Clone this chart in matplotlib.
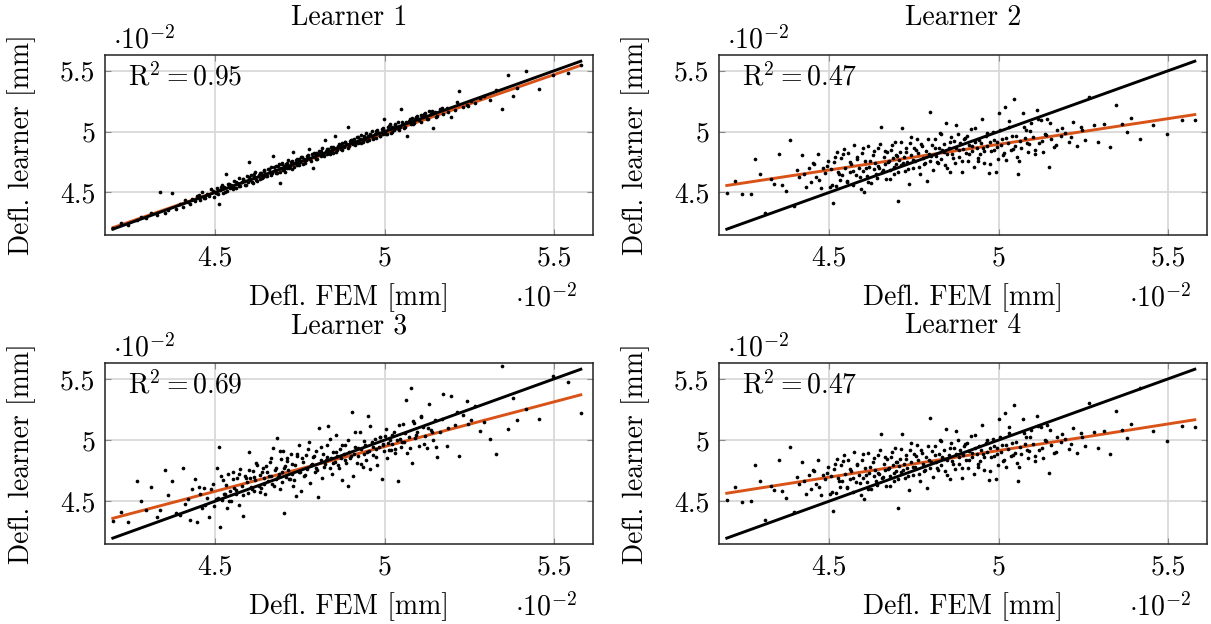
import matplotlib.pyplot as plt
import numpy as np

plt.rcParams['font.family'] = 'cmr10'
plt.rcParams['mathtext.fontset'] = 'cm'
plt.rcParams['axes.formatter.use_mathtext'] = True

# Deflections in units of 1e-2 mm (FEM reference, shared by all learners)
defl_fem = [
    4.198, 4.221, 4.243, 4.268, 4.281, 4.296, 4.312, 4.327, 4.338, 4.351,
    4.362, 4.374, 4.385, 4.397, 4.404, 4.412, 4.419, 4.426, 4.433, 4.441,
    4.447, 4.455, 4.461, 4.468, 4.476, 4.483, 4.489, 4.496, 4.502, 4.506,
    4.511, 4.514, 4.519, 4.523, 4.527, 4.531, 4.536, 4.539, 4.544, 4.548,
    4.552, 4.557, 4.561, 4.565, 4.569, 4.574, 4.578, 4.583, 4.588, 4.593,
    4.597, 4.599, 4.603, 4.607, 4.611, 4.616, 4.619, 4.624, 4.628, 4.633,
    4.636, 4.641, 4.645, 4.648, 4.653, 4.657, 4.661, 4.664, 4.668, 4.672,
    4.676, 4.681, 4.684, 4.688, 4.692, 4.695, 4.698, 4.699, 4.703, 4.706,
    4.709, 4.713, 4.716, 4.721, 4.724, 4.728, 4.731, 4.735, 4.739, 4.742,
    4.746, 4.751, 4.754, 4.758, 4.762, 4.767, 4.771, 4.776, 4.781, 4.785,
    4.789, 4.794, 4.797, 4.799, 4.803, 4.807, 4.812, 4.815, 4.819, 4.823,
    4.826, 4.831, 4.834, 4.838, 4.842, 4.846, 4.849, 4.853, 4.857, 4.861,
    4.864, 4.868, 4.872, 4.875, 4.879, 4.883, 4.887, 4.891, 4.895, 4.898,
    4.903, 4.907, 4.911, 4.914, 4.918, 4.922, 4.927, 4.931, 4.935, 4.938,
    4.942, 4.946, 4.951, 4.955, 4.958, 4.962, 4.966, 4.971, 4.975, 4.979,
    4.983, 4.987, 4.991, 4.995, 4.998, 5.002, 5.006, 5.011, 5.015, 5.019,
    5.023, 5.028, 5.032, 5.036, 5.041, 5.045, 5.049, 5.054, 5.058, 5.063,
    5.067, 5.072, 5.077, 5.082, 5.086, 5.091, 5.095, 5.103, 5.108, 5.114,
    5.119, 5.124, 5.131, 5.137, 5.142, 5.148, 5.156, 5.163, 5.172, 5.184,
    5.195, 5.208, 5.219, 5.231, 5.242, 5.256, 5.268, 5.281, 5.294, 5.312,
    5.328, 5.347, 5.363, 5.378, 5.391, 5.418, 5.456, 5.497, 5.541, 5.579,
    4.452, 4.471, 4.493, 4.508, 4.517, 4.529, 4.541, 4.553, 4.563, 4.571,
    4.582, 4.591, 4.601, 4.609, 4.614, 4.622, 4.631, 4.638, 4.643, 4.651,
    4.659, 4.666, 4.674, 4.679, 4.686, 4.691, 4.697, 4.704, 4.711, 4.718,
    4.726, 4.733, 4.741, 4.748, 4.756, 4.764, 4.773, 4.782, 4.791, 4.801,
    4.811, 4.821, 4.829, 4.839, 4.847, 4.856, 4.866, 4.874, 4.884, 4.893,
    4.901, 4.912, 4.921, 4.929, 4.939, 4.948, 4.957, 4.967, 4.976, 4.985,
    4.994, 5.004, 5.013, 5.021, 5.031, 5.043, 5.052, 5.061, 5.074, 5.084,
    5.093, 5.106, 5.117, 5.128, 5.139, 5.152, 5.168, 5.186, 5.214, 5.246,
]

defl_learner1 = [
    4.205, 4.248, 4.236, 4.271, 4.302, 4.288, 4.335, 4.316, 4.507, 4.334,
    4.356, 4.497, 4.361, 4.405, 4.383, 4.438, 4.425, 4.402, 4.447, 4.431,
    4.468, 4.437, 4.502, 4.455, 4.489, 4.472, 4.531, 4.463, 4.494, 4.538,
    4.407, 4.519, 4.562, 4.498, 4.541, 4.655, 4.512, 4.573, 4.536, 4.561,
    4.548, 4.592, 4.537, 4.578, 4.621, 4.556, 4.589, 4.608, 4.562, 4.634,
    4.583, 4.748, 4.602, 4.641, 4.574, 4.623, 4.667, 4.598, 4.641, 4.612,
    4.662, 4.627, 4.683, 4.651, 4.637, 4.692, 4.668, 4.709, 4.656, 4.798,
    4.681, 4.714, 4.662, 4.731, 4.575, 4.698, 4.743, 4.682, 4.719, 4.671,
    4.736, 4.702, 4.768, 4.719, 4.748, 4.695, 4.832, 4.741, 4.763, 4.727,
    4.771, 4.748, 4.794, 4.733, 4.779, 4.768, 4.802, 4.857, 4.776, 4.812,
    4.698, 4.795, 4.828, 4.779, 4.816, 4.842, 4.801, 4.863, 4.818, 4.934,
    4.842, 4.812, 4.859, 4.836, 4.875, 4.851, 4.827, 4.962, 4.868, 4.845,
    4.881, 4.892, 4.859, 4.906, 4.873, 4.918, 4.896, 5.042, 4.884, 4.921,
    4.928, 4.895, 4.941, 4.917, 4.952, 4.903, 4.936, 4.971, 4.918, 4.954,
    4.938, 4.986, 4.962, 4.928, 4.975, 5.003, 4.951, 4.983, 4.947, 5.012,
    4.991, 4.962, 5.018, 4.984, 5.102, 5.006, 4.978, 5.035, 5.062, 4.989,
    5.041, 5.015, 5.058, 5.026, 5.082, 5.039, 5.186, 5.061, 5.032, 5.078,
    4.968, 5.089, 5.063, 5.112, 5.074, 5.101, 5.129, 5.092, 5.136, 5.118,
    5.156, 5.102, 5.173, 5.141, 5.032, 5.162, 5.127, 5.189, 5.148, 5.196,
    5.118, 5.176, 5.332, 5.204, 5.217, 5.248, 5.236, 5.273, 5.296, 5.261,
    5.341, 5.187, 5.468, 5.294, 5.358, 5.502, 5.347, 5.463, 5.478, 5.548,
    4.481, 4.452, 4.511, 4.489, 4.548, 4.507, 4.568, 4.531, 4.589, 4.552,
    4.611, 4.565, 4.628, 4.583, 4.652, 4.604, 4.659, 4.621, 4.678, 4.633,
    4.691, 4.642, 4.707, 4.661, 4.719, 4.672, 4.732, 4.689, 4.745, 4.701,
    4.758, 4.709, 4.776, 4.727, 4.791, 4.741, 4.806, 4.762, 4.823, 4.779,
    4.842, 4.803, 4.861, 4.812, 4.877, 4.832, 4.895, 4.851, 4.913, 4.868,
    4.929, 4.887, 4.952, 4.903, 4.968, 4.921, 4.983, 4.942, 5.004, 4.961,
    5.027, 4.981, 5.044, 4.996, 5.061, 5.012, 5.083, 5.034, 5.104, 5.059,
    5.124, 5.078, 5.149, 5.101, 5.167, 5.121, 5.192, 5.159, 5.243, 5.212,
]

defl_learner2 = [
    4.493, 4.597, 4.486, 4.488, 4.779, 4.652, 4.334, 4.611, 4.573, 4.817,
    4.565, 4.509, 4.928, 4.392, 4.684, 4.623, 4.805, 4.651, 4.541, 4.702,
    4.586, 4.731, 4.628, 4.819, 4.537, 4.697, 4.662, 4.762, 4.543, 4.689,
    4.412, 4.748, 4.556, 4.831, 4.671, 4.602, 4.782, 4.647, 4.859, 4.703,
    4.589, 4.821, 4.668, 4.732, 4.558, 4.886, 4.641, 4.778, 4.702, 4.531,
    4.822, 4.676, 4.507, 4.758, 4.639, 4.878, 4.712, 4.581, 4.805, 4.693,
    4.742, 4.618, 4.864, 4.703, 5.038, 4.671, 4.789, 4.736, 4.611, 4.829,
    4.755, 4.687, 4.846, 4.782, 4.652, 4.918, 4.734, 4.801, 4.426, 4.769,
    4.832, 4.724, 5.032, 4.788, 4.676, 4.862, 4.751, 4.572, 4.903, 4.807,
    4.698, 4.869, 4.762, 4.941, 4.823, 4.648, 4.901, 4.784, 4.732, 4.842,
    4.593, 4.816, 5.162, 4.758, 4.891, 4.682, 4.937, 4.802, 4.754, 4.868,
    4.987, 4.776, 4.845, 4.902, 4.728, 5.071, 4.819, 4.864, 4.667, 4.958,
    4.812, 4.921, 4.745, 4.866, 4.982, 4.789, 4.903, 4.671, 4.857, 4.938,
    4.821, 4.962, 4.756, 4.893, 5.018, 4.842, 4.708, 4.914, 4.869, 4.787,
    4.935, 4.812, 5.103, 4.868, 4.741, 4.962, 4.883, 4.659, 4.918, 4.841,
    4.993, 4.852, 4.668, 4.917, 4.776, 5.152, 4.889, 4.942, 4.821, 5.201,
    4.765, 4.908, 5.041, 4.852, 4.962, 5.272, 4.881, 4.793, 4.651, 4.927,
    4.869, 5.153, 4.948, 5.012, 4.835, 4.897, 5.068, 4.953, 4.812, 5.181,
    4.905, 5.092, 4.834, 4.982, 5.107, 4.712, 4.943, 4.876, 5.012, 4.968,
    4.991, 4.912, 5.083, 4.878, 5.042, 4.932, 5.282, 5.051, 4.918, 5.061,
    4.872, 5.221, 5.064, 4.998, 5.112, 4.942, 5.058, 4.978, 5.096, 5.092,
    4.742, 4.603, 4.718, 4.561, 4.789, 4.652, 4.812, 4.598, 4.751, 4.677,
    4.792, 4.631, 4.868, 4.702, 4.584, 4.761, 4.839, 4.652, 4.718, 4.902,
    4.681, 4.843, 4.752, 4.611, 4.887, 4.712, 4.806, 4.668, 4.911, 4.743,
    4.829, 4.694, 4.958, 4.767, 4.853, 4.708, 4.882, 4.741, 4.936, 4.802,
    4.863, 4.741, 4.978, 4.832, 4.702, 4.917, 4.785, 5.058, 4.846, 4.758,
    4.951, 4.818, 4.879, 5.027, 4.762, 4.906, 4.843, 4.988, 4.731, 4.932,
    4.872, 5.013, 4.811, 4.946, 5.087, 4.858, 4.967, 4.762, 5.041, 4.903,
    5.006, 4.853, 5.102, 4.921, 4.976, 5.068, 4.887, 5.031, 4.952, 5.013,
]

defl_learner3 = [
    4.335, 4.412, 4.332, 4.662, 4.503, 4.427, 4.618, 4.368, 4.431, 4.752,
    4.548, 4.662, 4.401, 4.385, 4.771, 4.478, 4.522, 4.343, 4.596, 4.681,
    4.327, 4.562, 4.448, 4.611, 4.527, 4.372, 4.598, 4.463, 4.518, 4.775,
    4.943, 4.288, 4.512, 4.674, 4.558, 4.631, 4.442, 4.719, 4.587, 4.502,
    4.736, 4.611, 4.558, 4.692, 4.468, 4.763, 4.621, 4.378, 4.707, 4.655,
    4.563, 4.901, 4.688, 4.612, 4.749, 4.584, 4.672, 4.792, 4.628, 4.715,
    4.607, 4.768, 4.693, 4.562, 4.741, 4.665, 4.824, 4.706, 4.644, 4.932,
    4.758, 4.682, 5.018, 4.721, 4.602, 4.845, 4.739, 4.912, 4.407, 4.786,
    4.698, 4.832, 4.751, 4.679, 4.887, 4.723, 4.625, 4.799, 4.546, 4.871,
    4.962, 4.738, 4.583, 4.819, 4.702, 4.876, 4.761, 4.982, 4.647, 4.803,
    4.859, 4.742, 4.908, 4.771, 4.531, 5.096, 4.836, 4.689, 4.882, 4.801,
    4.836, 4.962, 5.113, 4.774, 4.857, 4.721, 4.903, 4.819, 5.042, 4.866,
    4.792, 4.928, 4.856, 4.671, 4.883, 4.961, 4.812, 4.627, 4.903, 4.854,
    5.228, 4.702, 4.886, 4.943, 4.812, 4.871, 5.062, 4.929, 4.776, 4.889,
    4.958, 4.835, 5.197, 4.912, 4.761, 4.987, 4.874, 5.006, 4.928, 4.792,
    4.941, 5.021, 4.683, 4.965, 4.908, 5.032, 4.852, 4.976, 5.002, 4.919,
    4.968, 5.067, 4.926, 4.998, 4.668, 5.012, 4.943, 5.134, 4.987, 5.331,
    4.891, 5.024, 5.428, 4.812, 5.137, 5.013, 5.062, 4.954, 5.188, 5.103,
    5.031, 4.932, 5.297, 5.084, 5.004, 5.163, 4.861, 5.062, 5.373, 4.948,
    5.358, 5.124, 4.867, 5.201, 5.317, 5.164, 5.281, 5.072, 5.148, 5.012,
    4.882, 5.607, 5.091, 5.347, 5.162, 5.251, 5.174, 5.527, 5.471, 5.222,
    4.612, 4.468, 4.641, 4.527, 4.703, 4.561, 4.498, 4.682, 4.593, 4.726,
    4.548, 4.687, 4.752, 4.603, 4.698, 4.812, 4.577, 4.736, 4.641, 4.789,
    4.702, 4.851, 4.628, 4.773, 4.694, 4.912, 4.658, 4.769, 4.852, 4.681,
    4.808, 4.673, 4.889, 4.736, 4.852, 4.712, 4.928, 4.792, 4.867, 4.751,
    4.942, 4.778, 4.862, 5.008, 4.812, 4.903, 4.768, 4.956, 4.839, 4.997,
    4.868, 5.062, 4.931, 4.807, 4.989, 4.902, 5.118, 4.943, 4.859, 5.021,
    4.962, 5.087, 4.921, 5.043, 4.897, 5.124, 4.986, 5.058, 4.932, 5.152,
    5.041, 5.198, 4.968, 5.102, 5.067, 4.946, 5.172, 5.098, 5.227, 5.131,
]

defl_learner4 = [
    4.511, 4.612, 4.497, 4.502, 4.796, 4.668, 4.349, 4.627, 4.589, 4.834,
    4.581, 4.523, 4.942, 4.408, 4.699, 4.638, 4.821, 4.667, 4.556, 4.718,
    4.601, 4.747, 4.643, 4.836, 4.551, 4.713, 4.678, 4.779, 4.558, 4.705,
    4.421, 4.763, 4.571, 4.846, 4.688, 4.617, 4.798, 4.662, 4.875, 4.719,
    4.604, 4.836, 4.683, 4.748, 4.573, 4.902, 4.657, 4.793, 4.718, 4.547,
    4.838, 4.691, 4.522, 4.774, 4.655, 4.893, 4.728, 4.597, 4.821, 4.709,
    4.758, 4.634, 4.879, 4.719, 5.052, 4.687, 4.805, 4.752, 4.627, 4.845,
    4.771, 4.703, 4.862, 4.798, 4.668, 4.934, 4.750, 4.817, 4.441, 4.785,
    4.848, 4.741, 5.048, 4.804, 4.693, 4.878, 4.768, 4.588, 4.919, 4.823,
    4.715, 4.885, 4.779, 4.957, 4.840, 4.665, 4.918, 4.801, 4.749, 4.859,
    4.611, 4.833, 5.178, 4.775, 4.908, 4.699, 4.954, 4.819, 4.771, 4.885,
    5.004, 4.793, 4.862, 4.919, 4.745, 5.088, 4.836, 4.881, 4.684, 4.975,
    4.829, 4.938, 4.762, 4.883, 4.999, 4.806, 4.920, 4.688, 4.874, 4.955,
    4.838, 4.979, 4.773, 4.910, 5.035, 4.859, 4.725, 4.931, 4.886, 4.804,
    4.952, 4.829, 5.120, 4.885, 4.758, 4.979, 4.900, 4.676, 4.935, 4.858,
    5.010, 4.869, 4.685, 4.934, 4.793, 5.169, 4.906, 4.959, 4.838, 5.218,
    4.782, 4.925, 5.058, 4.869, 4.979, 5.289, 4.898, 4.810, 4.668, 4.944,
    4.886, 5.170, 4.965, 5.029, 4.852, 4.914, 5.085, 4.970, 4.829, 5.198,
    4.922, 5.109, 4.851, 4.999, 5.124, 4.729, 4.960, 4.893, 5.029, 4.985,
    5.008, 4.929, 5.100, 4.895, 5.059, 4.949, 5.299, 5.068, 4.935, 5.078,
    4.889, 5.238, 5.081, 5.015, 5.129, 5.428, 5.075, 4.995, 5.113, 5.109,
    4.756, 4.618, 4.731, 4.575, 4.803, 4.667, 4.826, 4.612, 4.766, 4.691,
    4.807, 4.645, 4.883, 4.716, 4.599, 4.776, 4.853, 4.667, 4.733, 4.918,
    4.696, 4.858, 4.767, 4.626, 4.902, 4.727, 4.821, 4.684, 4.926, 4.759,
    4.845, 4.709, 4.973, 4.783, 4.869, 4.724, 4.898, 4.757, 4.952, 4.818,
    4.879, 4.757, 4.994, 4.848, 4.718, 4.933, 4.801, 5.074, 4.862, 4.774,
    4.967, 4.834, 4.895, 5.043, 4.778, 4.922, 4.859, 5.004, 4.747, 4.948,
    4.888, 5.029, 4.827, 4.962, 5.103, 4.874, 4.983, 4.778, 5.057, 4.919,
    5.022, 4.869, 5.118, 4.937, 4.992, 5.084, 4.903, 5.047, 4.968, 5.029,
]

learner_names = ['Learner 1', 'Learner 2', 'Learner 3', 'Learner 4']
r2_values = ['0.95', '0.47', '0.69', '0.47']
# regression line values at the smallest and largest FEM deflection
fit_ends = [(4.21, 5.545), (4.557, 5.14), (4.36, 5.37), (4.565, 5.166)]
tick_values = [4.5, 5, 5.5]
tick_labels = ['4.5', '5', '5.5']

learners = [defl_learner1, defl_learner2, defl_learner3, defl_learner4]

W, H = 1211, 624
fig = plt.figure(figsize=(W / 100, H / 100), dpi=100)


def px_box(left, top, right, bottom):
    return [left / W, 1 - bottom / H, (right - left) / W, (bottom - top) / H]


boxes = [px_box(105, 55, 593, 235), px_box(719, 55, 1207, 235),
         px_box(105, 363, 593, 544), px_box(719, 363, 1207, 544)]

fs = 20
x0, x1 = min(defl_fem), max(defl_fem)
for i, box in enumerate(boxes):
    ax = fig.add_axes(box)
    ax.scatter(defl_fem, learners[i], s=7, color='black', linewidths=0, zorder=3)
    ax.plot([x0, x1], fit_ends[i], color='#d95319', lw=2.1, zorder=2)
    ax.plot([x0, x1], [x0, x1], color='black', lw=2.1, zorder=2.5)

    ax.set_xlim(4.175, 5.615)
    ax.set_ylim(4.15, 5.63)
    ax.set_xticks(tick_values)
    ax.set_xticklabels(tick_labels)
    ax.set_yticks(tick_values)
    ax.set_yticklabels(tick_labels)
    ax.grid(True, color='#d9d9d9', lw=1.3)
    ax.set_axisbelow(True)
    ax.tick_params(direction='in', length=4, color='#8a8a8a', width=0.8,
                   top=True, right=True, labelsize=fs)
    ax.tick_params(axis='x', pad=7)
    ax.tick_params(axis='y', pad=7)
    for sp in ax.spines.values():
        sp.set_linewidth(1.1)
        sp.set_color('#222222')

    ax.text(0.5, 1.205, learner_names[i], transform=ax.transAxes,
            ha='center', va='center', fontsize=fs)
    ax.text(0.016, 1.083, r'$\cdot 10^{-2}$', transform=ax.transAxes,
            ha='left', va='center', fontsize=fs)
    ax.text(0.969, -0.35, r'$\cdot 10^{-2}$', transform=ax.transAxes,
            ha='right', va='center', fontsize=fs)
    ax.text(0.5, -0.345, 'Defl. FEM [mm]', transform=ax.transAxes,
            ha='center', va='center', fontsize=fs)
    ax.text(-0.17, 0.5, 'Defl. learner [mm]', transform=ax.transAxes,
            ha='center', va='center', rotation=90, fontsize=fs)
    ax.text(0.047, 0.878, r'$\mathrm{R}^2 = ' + r2_values[i] + '$',
            transform=ax.transAxes, ha='left', va='center', fontsize=fs)

fig.savefig('out.png', dpi=100)
